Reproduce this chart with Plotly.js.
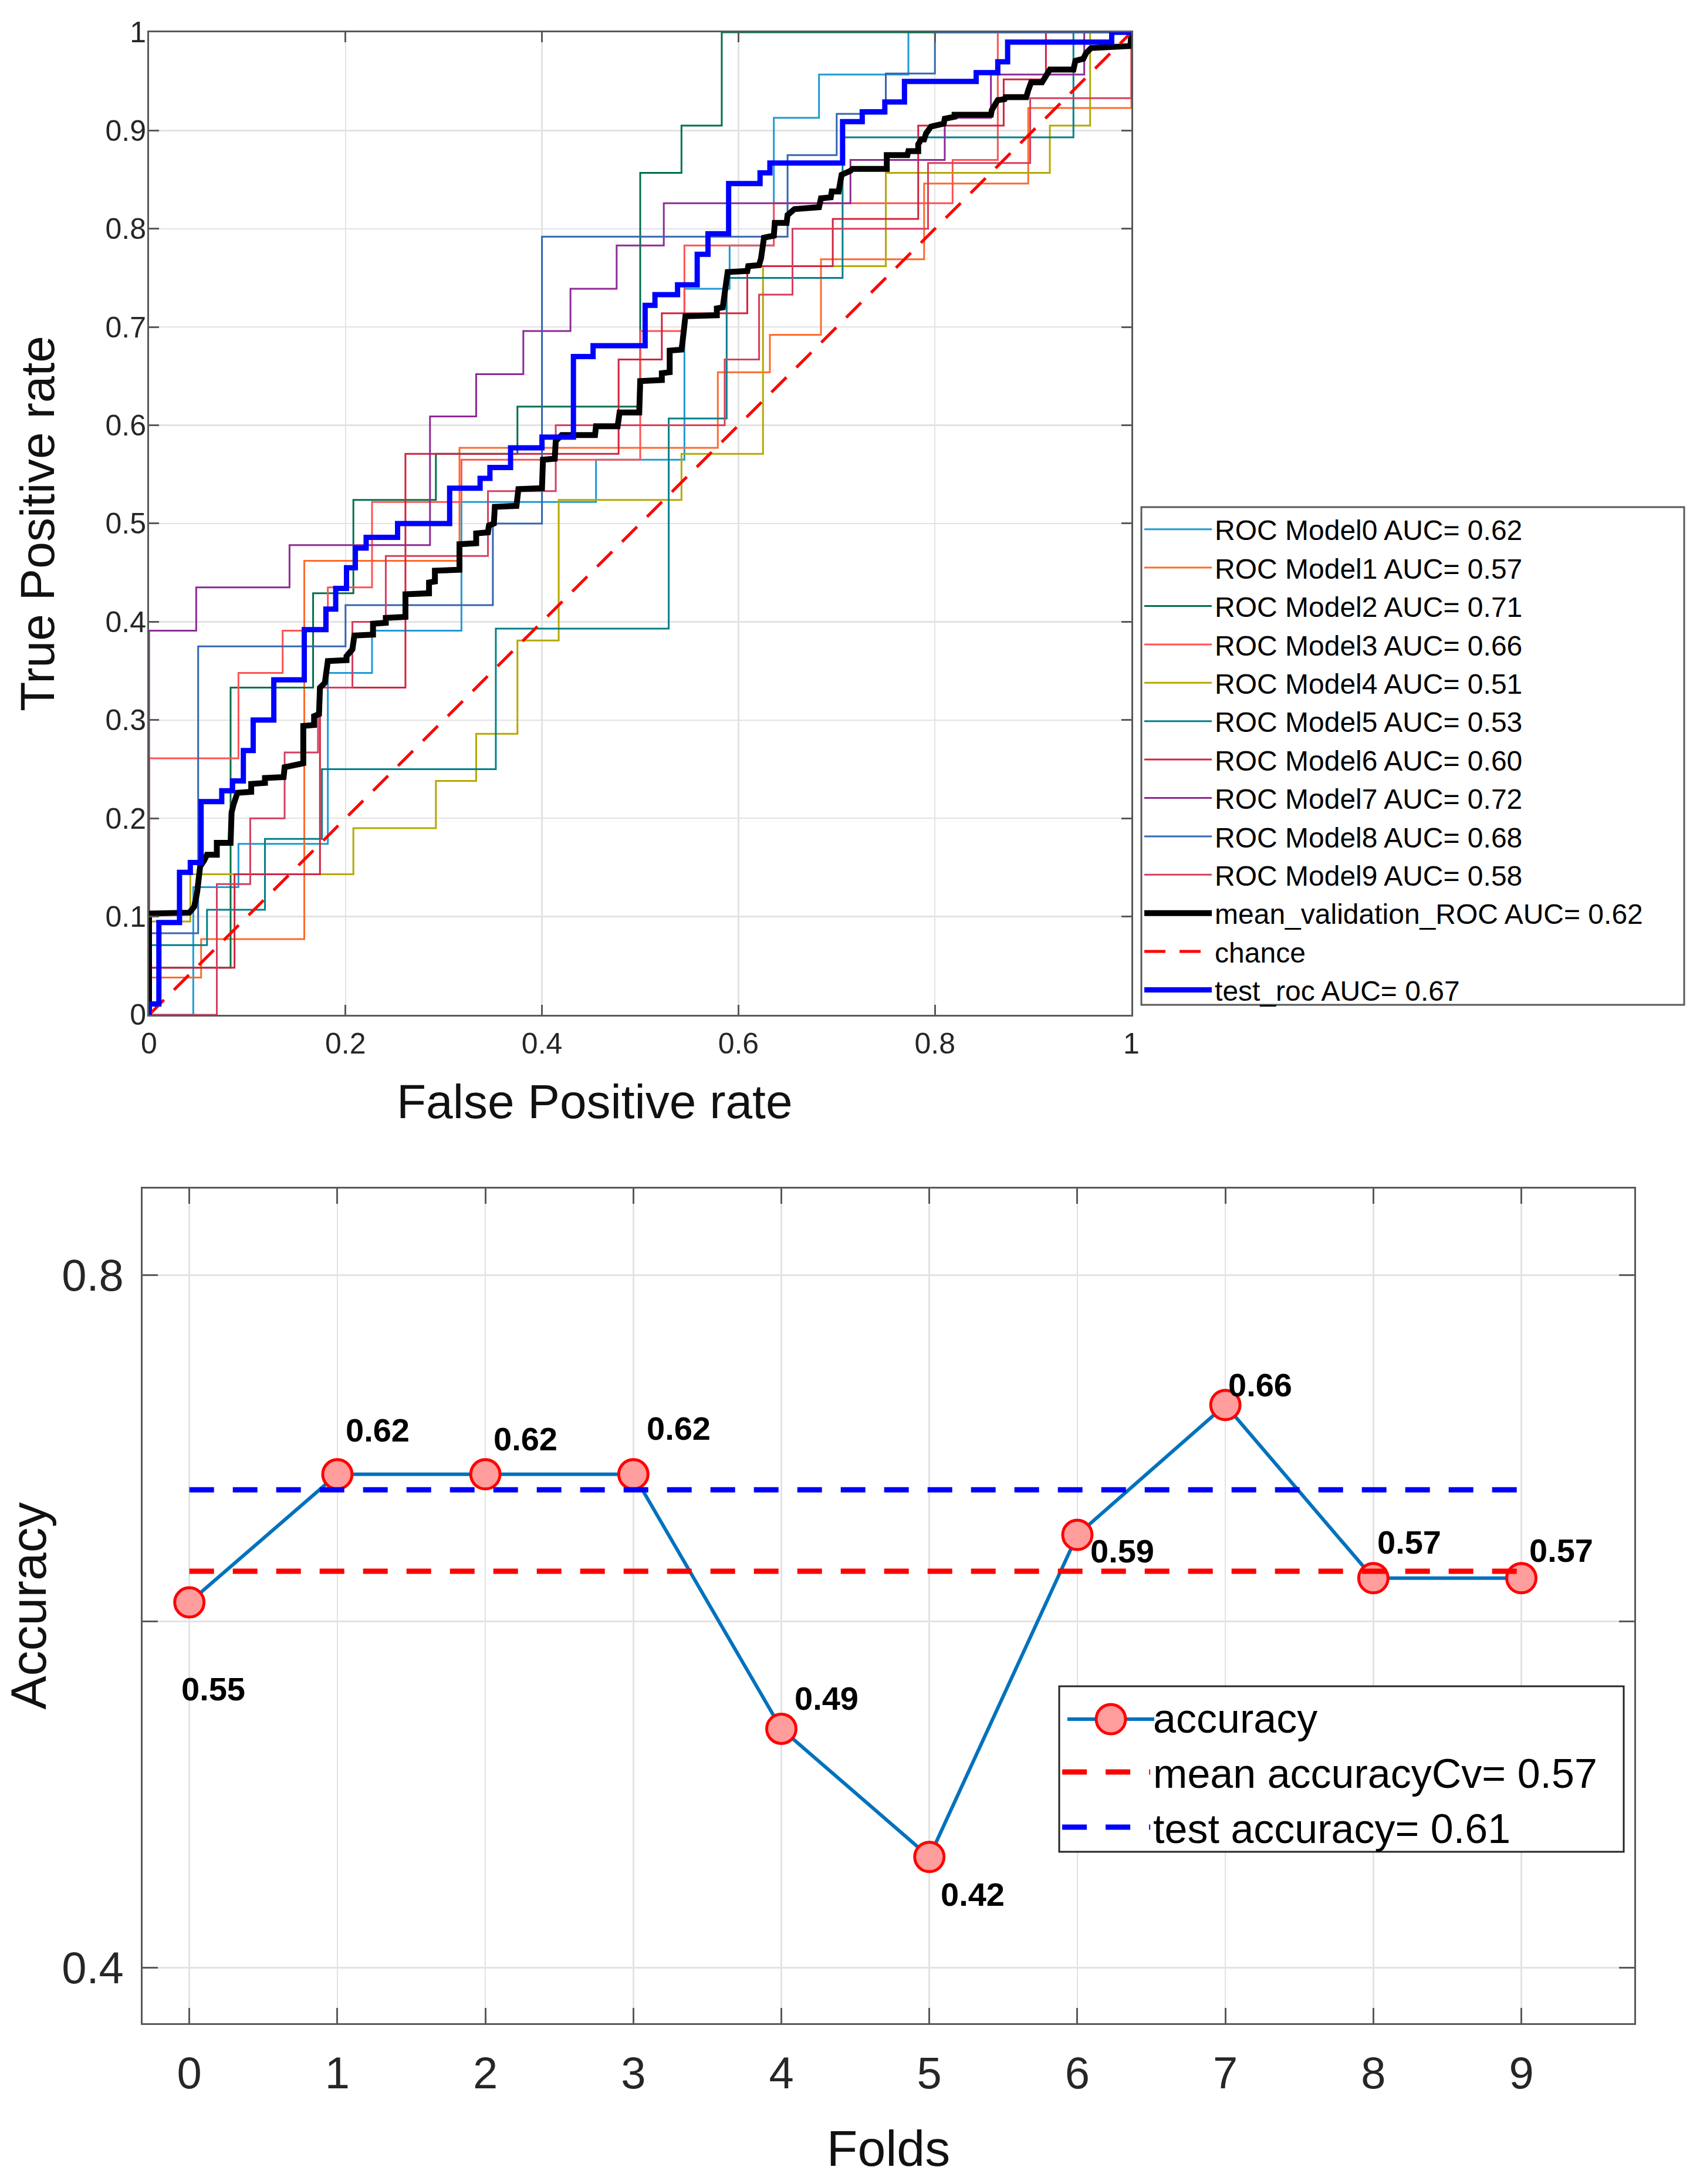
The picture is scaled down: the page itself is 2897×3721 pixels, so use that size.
<!DOCTYPE html>
<html><head><meta charset="utf-8">
<script src="https://cdn.plot.ly/plotly-3.0.1.min.js"></script>
<style>html,body{margin:0;padding:0;background:#fff;} #chart{width:2897px;height:3721px;}</style>
</head><body><div id="chart"></div>
<script>
// ---------- ROC data (FPR / TPR step corners) ----------
const model0Fpr = [0, 0.045, 0.091, 0.182, 0.227, 0.318, 0.455, 0.545, 0.591, 0.636, 0.682, 0.773, 1];
const model0Tpr = [0, 0.130, 0.174, 0.348, 0.391, 0.522, 0.565, 0.739, 0.783, 0.913, 0.957, 1, 1];
const model1Fpr = [0, 0, 0.053, 0.158, 0.316, 0.579, 0.632, 0.684, 0.789, 0.895, 1];
const model1Tpr = [0, 0.038, 0.077, 0.462, 0.577, 0.654, 0.692, 0.769, 0.846, 0.923, 1];
const model2Fpr = [0, 0, 0.083, 0.167, 0.208, 0.292, 0.375, 0.5, 0.542, 0.583, 1];
const model2Tpr = [0, 0.048, 0.333, 0.429, 0.524, 0.571, 0.619, 0.857, 0.905, 1, 1];
const model3Fpr = [0, 0, 0.091, 0.136, 0.182, 0.227, 0.318, 0.5, 0.545, 0.636, 0.818, 0.864, 1];
const model3Tpr = [0, 0.261, 0.348, 0.391, 0.435, 0.522, 0.565, 0.696, 0.783, 0.826, 0.870, 1, 1];
const model4Fpr = [0, 0, 0.042, 0.208, 0.292, 0.333, 0.375, 0.417, 0.542, 0.625, 0.75, 0.917, 0.958, 1];
const model4Tpr = [0, 0.095, 0.143, 0.190, 0.238, 0.286, 0.381, 0.524, 0.571, 0.762, 0.857, 0.905, 1, 1];
const model5Fpr = [0, 0, 0.059, 0.118, 0.176, 0.353, 0.529, 0.588, 0.706, 0.941, 1];
const model5Tpr = [0, 0.071, 0.107, 0.179, 0.25, 0.393, 0.607, 0.75, 0.893, 1, 1];
const model6Fpr = [0, 0, 0.087, 0.174, 0.261, 0.478, 0.522, 0.609, 0.696, 0.783, 0.870, 0.913, 1];
const model6Tpr = [0, 0.048, 0.143, 0.333, 0.571, 0.667, 0.714, 0.762, 0.810, 0.905, 0.952, 1, 1];
const model7Fpr = [0, 0, 0.048, 0.143, 0.286, 0.333, 0.381, 0.429, 0.476, 0.524, 0.714, 0.810, 0.857, 0.952, 1];
const model7Tpr = [0, 0.391, 0.435, 0.478, 0.609, 0.652, 0.696, 0.739, 0.783, 0.826, 0.870, 0.913, 0.957, 1, 1];
const model8Fpr = [0, 0, 0.05, 0.2, 0.35, 0.4, 0.65, 0.7, 0.75, 0.8, 1];
const model8Tpr = [0, 0.083, 0.375, 0.417, 0.5, 0.792, 0.875, 0.917, 0.958, 1, 1];
const model9Fpr = [0, 0.069, 0.103, 0.138, 0.172, 0.207, 0.241, 0.345, 0.414, 0.586, 0.621, 0.655, 0.793, 0.897, 1];
const model9Tpr = [0, 0.133, 0.2, 0.267, 0.333, 0.4, 0.467, 0.533, 0.6, 0.667, 0.733, 0.8, 0.867, 0.933, 1];

const meanFpr = [0, 0, 0.041, 0.046, 0.049, 0.051, 0.052, 0.056, 0.059, 0.069,
 0.069, 0.083, 0.084, 0.086, 0.090, 0.104, 0.104, 0.118, 0.118, 0.137,
 0.138, 0.157, 0.157, 0.168, 0.168, 0.173, 0.174, 0.179, 0.182, 0.201,
 0.201, 0.207, 0.209, 0.228, 0.228, 0.241, 0.241, 0.261, 0.261, 0.285,
 0.285, 0.291, 0.291, 0.316, 0.316, 0.333, 0.333, 0.345, 0.346, 0.351,
 0.352, 0.374, 0.376, 0.400, 0.401, 0.413, 0.414, 0.420, 0.454, 0.455,
 0.477, 0.479, 0.499, 0.500, 0.522, 0.522, 0.530, 0.530, 0.542, 0.543,
 0.546, 0.578, 0.578, 0.584, 0.585, 0.589, 0.609, 0.610, 0.621, 0.623,
 0.626, 0.636, 0.637, 0.649, 0.650, 0.657, 0.682, 0.684, 0.694, 0.695,
 0.702, 0.705, 0.714, 0.716, 0.751, 0.751, 0.772, 0.773, 0.783, 0.783,
 0.786, 0.789, 0.791, 0.796, 0.809, 0.810, 0.820, 0.820, 0.857, 0.858,
 0.864, 0.871, 0.872, 0.893, 0.895, 0.898, 0.909, 0.912, 0.917, 0.941,
 0.943, 0.951, 0.954, 0.959, 0.999, 1];
const meanTpr = [0, 0.103, 0.104, 0.110, 0.125, 0.137, 0.151, 0.157, 0.163, 0.163,
 0.175, 0.175, 0.206, 0.214, 0.226, 0.227, 0.235, 0.236, 0.241, 0.242,
 0.252, 0.256, 0.294, 0.295, 0.304, 0.306, 0.333, 0.338, 0.360, 0.361,
 0.365, 0.372, 0.386, 0.387, 0.398, 0.399, 0.404, 0.405, 0.428, 0.429,
 0.440, 0.441, 0.452, 0.453, 0.479, 0.480, 0.490, 0.491, 0.498, 0.500,
 0.517, 0.518, 0.535, 0.536, 0.565, 0.566, 0.584, 0.590, 0.590, 0.599,
 0.599, 0.613, 0.613, 0.645, 0.646, 0.653, 0.654, 0.676, 0.677, 0.684,
 0.711, 0.712, 0.719, 0.720, 0.730, 0.756, 0.757, 0.762, 0.763, 0.770,
 0.791, 0.793, 0.806, 0.806, 0.814, 0.820, 0.822, 0.831, 0.832, 0.838,
 0.838, 0.855, 0.859, 0.861, 0.861, 0.875, 0.875, 0.879, 0.879, 0.886,
 0.891, 0.891, 0.897, 0.904, 0.907, 0.912, 0.914, 0.916, 0.916, 0.921,
 0.931, 0.932, 0.934, 0.934, 0.941, 0.949, 0.949, 0.955, 0.962, 0.962,
 0.971, 0.973, 0.979, 0.984, 0.986, 1];

const testFpr = [0, 0, 0.010, 0.031, 0.042, 0.053, 0.074, 0.085, 0.096, 0.106,
 0.127, 0.158, 0.180, 0.190, 0.201, 0.210, 0.221, 0.253, 0.306, 0.337,
 0.347, 0.368, 0.400, 0.432, 0.452, 0.505, 0.515, 0.538, 0.558, 0.569,
 0.590, 0.622, 0.632, 0.706, 0.726, 0.749, 0.769, 0.842, 0.864, 0.874, 0.980, 1];
const testTpr = [0, 0.011, 0.094, 0.145, 0.155, 0.217, 0.228, 0.238, 0.269, 0.300,
 0.341, 0.392, 0.413, 0.434, 0.455, 0.475, 0.486, 0.500, 0.536, 0.546,
 0.557, 0.577, 0.588, 0.670, 0.681, 0.722, 0.733, 0.743, 0.774, 0.795,
 0.846, 0.857, 0.867, 0.909, 0.919, 0.929, 0.950, 0.959, 0.970, 0.990, 1, 1];

const chanceX = [0, 1];
const chanceY = [0, 1];

const modelNames = ['ROC Model0 AUC= 0.62','ROC Model1 AUC= 0.57','ROC Model2 AUC= 0.71','ROC Model3 AUC= 0.66',
 'ROC Model4 AUC= 0.51','ROC Model5 AUC= 0.53','ROC Model6 AUC= 0.60','ROC Model7 AUC= 0.72',
 'ROC Model8 AUC= 0.68','ROC Model9 AUC= 0.58'];
const meanName = 'mean_validation_ROC AUC= 0.62';
const chanceName = 'chance';
const testName = 'test_roc AUC= 0.67';

const rocXTicks = [0, 0.2, 0.4, 0.6, 0.8, 1];
const rocXTickText = ['0', '0.2', '0.4', '0.6', '0.8', '1'];
const rocYTicks = [0, 0.1, 0.2, 0.3, 0.4, 0.5, 0.6, 0.7, 0.8, 0.9, 1];
const rocYTickText = ['0', '0.1', '0.2', '0.3', '0.4', '0.5', '0.6', '0.7', '0.8', '0.9', '1'];

// ---------- Accuracy data ----------
const folds = [0, 1, 2, 3, 4, 5, 6, 7, 8, 9];
const accuracyValues = [0.611, 0.685, 0.685, 0.685, 0.538, 0.464, 0.650, 0.725, 0.625, 0.625];
const accuracyLabels = ['0.55', '0.62', '0.62', '0.62', '0.49', '0.42', '0.59', '0.66', '0.57', '0.57'];
const refLineX = [0, 9];
const meanAccuracyCv = [0.629, 0.629];
const testAccuracy = [0.676, 0.676];
const accNames = ['accuracy', 'mean accuracyCv= 0.57', 'test accuracy= 0.61'];
const accYTicks = [0.4, 0.6, 0.8];
const accYTickText = ['0.4', '', '0.8'];

// ---------- styles ----------
const modelColors = ['#1E9AD6', '#FF6A2B', '#00704A', '#FF5252', '#B5A800', '#00808A', '#D0243F', '#8E2A96', '#3466B0', '#D63E5E'];
const labelShiftX = [-16, 12, 12, 21, 20, 17, 20, 3, 5, 11];
const labelShiftY = [-147, 75, 60, 78, 52, -64, -27, 34, 61, 47];
const accLineColor = '#0072BD';
const accMarkerFill = '#FF9C9C';
const accMarkerEdge = '#FF0000';

const F = 'Liberation Sans, Arial, Helvetica, sans-serif';
const modelFpr = [model0Fpr, model1Fpr, model2Fpr, model3Fpr, model4Fpr, model5Fpr, model6Fpr, model7Fpr, model8Fpr, model9Fpr];
const modelTpr = [model0Tpr, model1Tpr, model2Tpr, model3Tpr, model4Tpr, model5Tpr, model6Tpr, model7Tpr, model8Tpr, model9Tpr];

const traces = [];
for (let i = 0; i < 10; i++) {
  traces.push({x: modelFpr[i], y: modelTpr[i], type: 'scatter', mode: 'lines', name: modelNames[i],
    line: {color: modelColors[i], width: 3, shape: 'hv'}, xaxis: 'x', yaxis: 'y', legend: 'legend'});
}
traces.push({x: meanFpr, y: meanTpr, type: 'scatter', mode: 'lines', name: meanName,
  line: {color: '#000000', width: 10}, xaxis: 'x', yaxis: 'y', legend: 'legend'});
traces.push({x: chanceX, y: chanceY, type: 'scatter', mode: 'lines', name: chanceName,
  line: {color: '#FF0000', width: 5, dash: '36px,24px'}, xaxis: 'x', yaxis: 'y', legend: 'legend'});
traces.push({x: testFpr, y: testTpr, type: 'scatter', mode: 'lines', name: testName,
  line: {color: '#0000FF', width: 9, shape: 'hv'}, xaxis: 'x', yaxis: 'y', legend: 'legend'});

traces.push({x: folds, y: accuracyValues, type: 'scatter', mode: 'lines+markers', name: accNames[0],
  line: {color: accLineColor, width: 6},
  marker: {size: 50, color: accMarkerFill, line: {color: accMarkerEdge, width: 5}},
  xaxis: 'x2', yaxis: 'y2', showlegend: false});
// legend entry for "accuracy" (its full-size symbol is drawn with shapes below)
traces.push({x: [null], y: [null], type: 'scatter', mode: 'lines', name: accNames[0],
  line: {color: 'rgba(0,0,0,0)', width: 6}, xaxis: 'x2', yaxis: 'y2', legend: 'legend2'});
traces.push({x: refLineX, y: meanAccuracyCv, type: 'scatter', mode: 'lines', name: accNames[1],
  line: {color: '#FF0000', width: 9, dash: '42px,32px'}, xaxis: 'x2', yaxis: 'y2', legend: 'legend2'});
traces.push({x: refLineX, y: testAccuracy, type: 'scatter', mode: 'lines', name: accNames[2],
  line: {color: '#0000FF', width: 9, dash: '42px,32px'}, xaxis: 'x2', yaxis: 'y2', legend: 'legend2'});

const annotations = accuracyLabels.map((t, i) => ({
  x: folds[i], y: accuracyValues[i], xref: 'x2', yref: 'y2', text: '<b>' + t + '</b>',
  showarrow: false, xanchor: 'left', yanchor: 'middle', xshift: labelShiftX[i], yshift: labelShiftY[i],
  font: {family: F, size: 56, color: '#000000'}
}));
annotations.push({xref: 'paper', yref: 'paper', x: 0.3500, y: 0.4958, text: 'False Positive rate',
  showarrow: false, xanchor: 'center', yanchor: 'middle', font: {family: F, size: 82, color: '#111111'}});

const axisCommon = {
  showline: true, linecolor: '#595959', linewidth: 3, mirror: 'ticks',
  ticks: 'inside', tickcolor: '#595959', tickwidth: 3,
  showgrid: true, gridcolor: '#E3E3E3', gridwidth: 2.5, zeroline: false,
  tickmode: 'array'
};

const layout = {
  width: 2897, height: 3721,
  margin: {l: 0, r: 0, t: 0, b: 0, pad: 0},
  paper_bgcolor: '#ffffff', plot_bgcolor: '#ffffff',
  font: {family: F, color: '#262626'},
  showlegend: true,
  xaxis: Object.assign({}, axisCommon, {
    domain: [0.08768, 0.66552], range: [0, 1], anchor: 'y',
    tickvals: rocXTicks, ticktext: rocXTickText, ticklen: 17,
    tickfont: {family: F, size: 50, color: '#262626'}, ticklabelstandoff: 3
  }),
  yaxis: Object.assign({}, axisCommon, {
    domain: [0.53534, 0.98522], range: [0, 1], anchor: 'x',
    tickvals: rocYTicks, ticktext: rocYTickText, ticklen: 17,
    tickfont: {family: F, size: 50, color: '#262626'}, ticklabelstandoff: -8,
    title: {text: 'True Positive rate', font: {family: F, size: 82, color: '#111111'}, standoff: 60}
  }),
  xaxis2: Object.assign({}, axisCommon, {
    domain: [0.08388, 0.96134], range: [-0.316, 9.763], anchor: 'y2',
    tickvals: folds, ticktext: folds.map(String), ticklen: 26,
    tickfont: {family: F, size: 76, color: '#262626'}, ticklabelstandoff: 17,
    title: {text: 'Folds', font: {family: F, size: 86, color: '#111111'}, standoff: 57}
  }),
  yaxis2: Object.assign({}, axisCommon, {
    domain: [0.07364, 0.45579], range: [0.368, 0.85], anchor: 'x2',
    tickvals: accYTicks, ticktext: accYTickText, ticklen: 26,
    tickfont: {family: F, size: 76, color: '#262626'}, ticklabelstandoff: 14,
    title: {text: 'Accuracy', font: {family: F, size: 86, color: '#111111'}, standoff: 13}
  }),
  legend: {
    x: 0.6714, y: 0.7678, xanchor: 'left', yanchor: 'top',
    bgcolor: 'rgba(0,0,0,0)', borderwidth: 0,
    font: {family: F, size: 48, color: '#000000'}, itemwidth: 115, tracegroupgap: 0
  },
  legend2: {
    x: 0.6231, y: 0.2279, xanchor: 'left', yanchor: 'top',
    bgcolor: 'rgba(0,0,0,0)', borderwidth: 0,
    font: {family: F, size: 70, color: '#000000'}, itemwidth: 150, tracegroupgap: 0
  },
  shapes: [
    {type: 'rect', xref: 'paper', yref: 'paper', x0: 0.67139, x1: 0.99068, y0: 0.53991, y1: 0.76780,
     fillcolor: '#ffffff', line: {color: '#595959', width: 3}, layer: 'above'},
    {type: 'rect', xref: 'paper', yref: 'paper', x0: 0.62306, x1: 0.95513, y0: 0.15211, y1: 0.22790,
     fillcolor: '#ffffff', line: {color: '#262626', width: 3}, layer: 'above'},
    // legend symbol for "accuracy": line with a full-size circle marker
    {type: 'line', xref: 'paper', yref: 'paper', x0: 0.62789, x1: 0.67898, y0: 0.21285, y1: 0.21285,
     line: {color: accLineColor, width: 6}, layer: 'above'},
    {type: 'circle', xref: 'paper', yref: 'paper', x0: 0.64481, x1: 0.66207, y0: 0.20613, y1: 0.21957,
     fillcolor: accMarkerFill, line: {color: accMarkerEdge, width: 5}, layer: 'above'}
  ],
  annotations: annotations
};

Plotly.newPlot('chart', traces, layout, {staticPlot: true, displayModeBar: false});
</script></body></html>
